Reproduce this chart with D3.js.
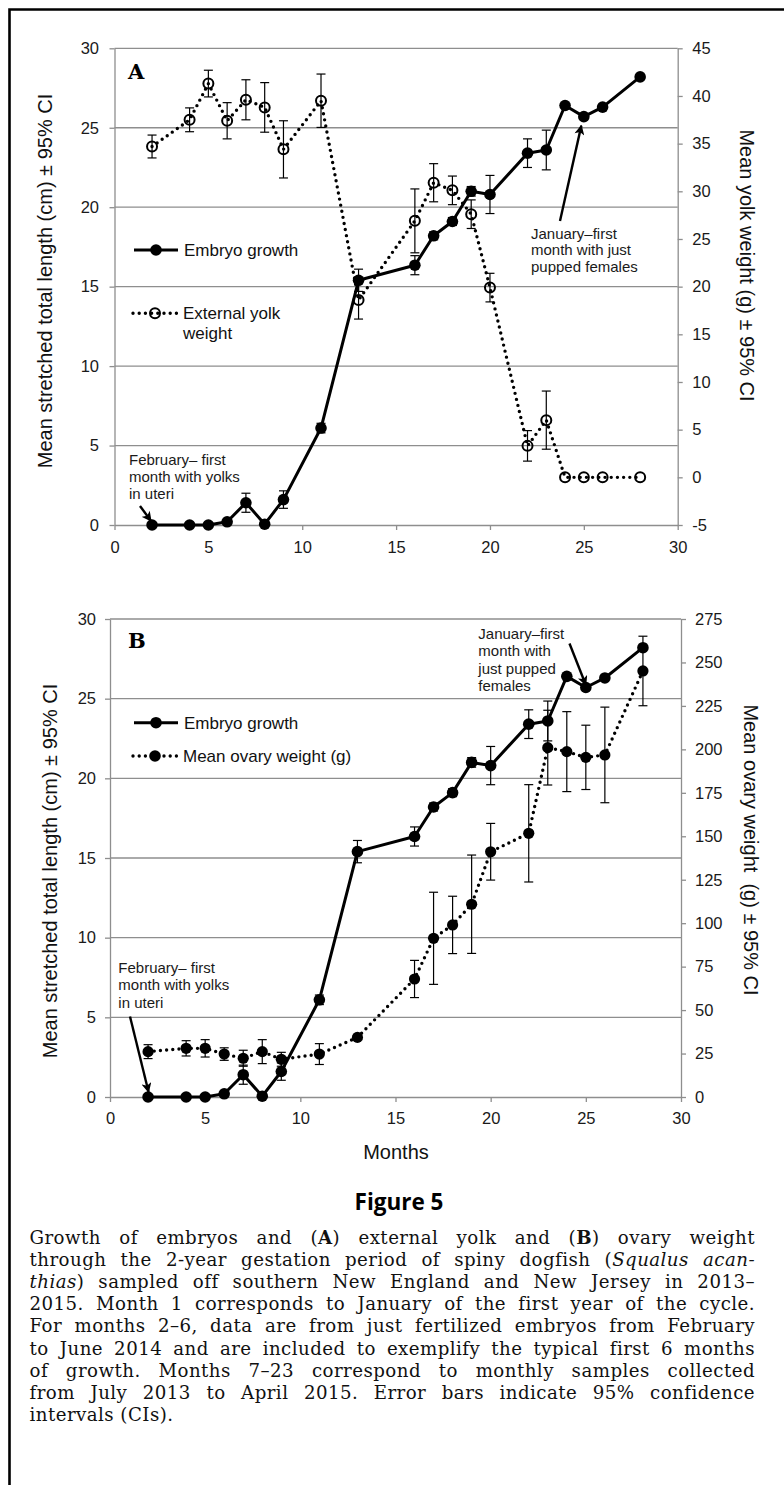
<!DOCTYPE html>
<html>
<head>
<meta charset="utf-8">
<script src="https://cdn.jsdelivr.net/npm/d3@7"></script>
<style>
  html, body { margin: 0; padding: 0; background: #fff; }
  svg { display: block; }
</style>
</head>
<body>
<svg id="fig" width="784" height="1485"></svg>
<script>
// ---- data -------------------------------------------------------------
const months = [2, 4, 5, 6, 7, 8, 9, 11, 13, 16, 17, 18, 19, 20, 22, 23, 24, 25, 26, 28];

// embryo stretched total length (cm) and 95% CI half-widths
const embryoLength = [0, 0, 0, 0.2, 1.4, 0.05, 1.6, 6.1, 15.4, 16.35, 18.2, 19.1, 21.0, 20.8, 23.4, 23.6, 26.4, 25.7, 26.3, 28.2];
const embryoCI     = [0, 0, 0, 0, 0.6, 0, 0.55, 0.3, 0.7, 0.6, 0.25, 0.25, 0.3, 1.2, 0.9, 1.25, 0, 0, 0, 0];

// external yolk weight (g) and 95% CI half-widths
const yolkWeight = [34.7, 37.5, 41.3, 37.4, 39.6, 38.8, 34.4, 39.5, 18.6, 26.9, 30.9, 30.1, 27.6, 19.9, 3.3, 6.0, 0, 0, 0, 0];
const yolkCI     = [1.2, 1.25, 1.4, 1.9, 2.1, 2.6, 3.0, 2.8, 2.0, 3.35, 2.0, 1.5, 1.5, 1.5, 1.6, 3.05, 0, 0, 0, 0];

// mean ovary weight (g) and 95% CI half-widths
const ovaryWeight = [26.1, 28.0, 28.0, 24.7, 22.3, 26.1, 21.7, 24.7, 34.3, 67.9, 91.3, 99.0, 110.9, 141.1, 151.7, 201, 198.7, 195.4, 196.8, 245.1];
const ovaryCI     = [4, 4.4, 5, 3.6, 4.6, 6.9, 4, 6, 0, 10.7, 26.5, 16.5, 28.3, 16.3, 28, 21.5, 23, 18.5, 27.5, 20];

// axis ticks
const monthTicks  = [0, 5, 10, 15, 20, 25, 30];
const lengthTicks = [0, 5, 10, 15, 20, 25, 30];
const yolkTicks   = [-5, 0, 5, 10, 15, 20, 25, 30, 35, 40, 45];
const ovaryTicks  = [0, 25, 50, 75, 100, 125, 150, 175, 200, 225, 250, 275];

// caption
const captionLines = [
  [["Growth of embryos and (", ""], ["A", "b"], [") external yolk and (", ""], ["B", "b"], [") ovary weight", ""]],
  [["through the 2-year gestation period of spiny dogfish (", ""], ["Squalus acan-", "i"]],
  [["thias", "i"], [") sampled off southern New England and New Jersey in 2013\u2013", ""]],
  [["2015. Month 1 corresponds to January of the first year of the cycle.", ""]],
  [["For months 2\u20136, data are from just fertilized embryos from February", ""]],
  [["to June 2014 and are included to exemplify the typical first 6 months", ""]],
  [["of growth. Months 7\u201323 correspond to monthly samples collected", ""]],
  [["from July 2013 to April 2015. Error bars indicate 95% confidence", ""]],
  [["intervals (CIs).", ""]]
];

// ---- styling ----------------------------------------------------------
const GRID = "#8e8e8e";
const INK = "#111";
const SANS = "'Liberation Sans', Arial, sans-serif";
const SERIF = "'DejaVu Serif', serif";

const svg = d3.select("#fig");

const defs = svg.append("defs");
defs.append("marker")
  .attr("id", "arrowHead")
  .attr("viewBox", "0 0 10 10")
  .attr("refX", 9).attr("refY", 5)
  .attr("markerWidth", 11).attr("markerHeight", 10)
  .attr("markerUnits", "userSpaceOnUse")
  .attr("orient", "auto")
  .append("path")
  .attr("d", "M0,0L10,5L0,10L2.5,5Z")
  .attr("fill", "#000");

// page frame
svg.append("path")
  .attr("d", "M9.5,1485V9.5H784")
  .attr("fill", "none").attr("stroke", "#000").attr("stroke-width", 2.6);

const rows = months.map((m, i) => ({ m, i }));

function styleAxis(sel) {
  sel.attr("font-family", SANS).attr("font-size", 16.5);
  sel.selectAll("path, line").attr("stroke", GRID).attr("stroke-width", 1.3);
  sel.selectAll("text").attr("fill", "#1a1a1a");
}

function errorBars(g, x, y, vals, ci) {
  const data = rows.filter(d => ci[d.i] > 0);
  const cap = 4.5;
  const eg = g.append("g").attr("stroke", "#000").attr("stroke-width", 1.2);
  eg.selectAll("line.v").data(data).join("line").attr("class", "v")
    .attr("x1", d => x(d.m)).attr("x2", d => x(d.m))
    .attr("y1", d => y(vals[d.i] - ci[d.i])).attr("y2", d => y(vals[d.i] + ci[d.i]));
  eg.selectAll("line.t").data(data).join("line").attr("class", "t")
    .attr("x1", d => x(d.m) - cap).attr("x2", d => x(d.m) + cap)
    .attr("y1", d => y(vals[d.i] + ci[d.i])).attr("y2", d => y(vals[d.i] + ci[d.i]));
  eg.selectAll("line.b").data(data).join("line").attr("class", "b")
    .attr("x1", d => x(d.m) - cap).attr("x2", d => x(d.m) + cap)
    .attr("y1", d => y(vals[d.i] - ci[d.i])).attr("y2", d => y(vals[d.i] - ci[d.i]));
}

function seriesLine(g, x, y, vals, dotted) {
  const line = d3.line().x(d => x(d.m)).y(d => y(vals[d.i]));
  const p = g.append("path").datum(rows).attr("d", line)
    .attr("fill", "none").attr("stroke", "#000");
  if (dotted) {
    p.attr("stroke-width", 3.4).attr("stroke-dasharray", "0 6.2").attr("stroke-linecap", "round");
  } else {
    p.attr("stroke-width", 3).attr("stroke-linejoin", "round");
  }
}

function markers(g, x, y, vals, hollow, r) {
  g.append("g").selectAll("circle").data(rows).join("circle")
    .attr("cx", d => x(d.m)).attr("cy", d => y(vals[d.i])).attr("r", r)
    .attr("fill", hollow ? "none" : "#000")
    .attr("stroke", "#000").attr("stroke-width", hollow ? 2 : 0);
}

function legendItem(g, lx, ly, dotted, hollow, lines) {
  const l = g.append("line").attr("x1", lx).attr("x2", lx + 44).attr("y1", ly).attr("y2", ly)
    .attr("stroke", "#000");
  if (dotted) l.attr("stroke-width", 3.4).attr("stroke-dasharray", "0 6.2").attr("stroke-linecap", "round");
  else l.attr("stroke-width", 3);
  g.append("circle").attr("cx", lx + 22).attr("cy", ly).attr("r", hollow ? 5 : 5.8)
    .attr("fill", hollow ? "none" : "#000").attr("stroke", "#000").attr("stroke-width", hollow ? 2 : 0);
  lines.forEach((t, k) => {
    g.append("text").attr("x", lx + 50).attr("y", ly + 6 + k * 19.5)
      .attr("font-family", SANS).attr("font-size", 17).attr("fill", INK).text(t);
  });
}

function note(g, tx, ty, lines, lh) {
  lines.forEach((t, k) => {
    g.append("text").attr("x", tx).attr("y", ty + k * lh)
      .attr("font-family", SANS).attr("font-size", 15).attr("fill", "#1a1a1a")
      .style("white-space", "pre").text(t);
  });
}

function arrow(g, x1, y1, x2, y2) {
  g.append("line").attr("x1", x1).attr("y1", y1).attr("x2", x2).attr("y2", y2)
    .attr("stroke", "#000").attr("stroke-width", 2.4)
    .attr("marker-end", "url(#arrowHead)");
}

function drawPanel(p) {
  const g = svg.append("g");
  const x = d3.scaleLinear().domain([0, 30]).range([p.left, p.right]);
  const yL = d3.scaleLinear().domain([0, 30]).range([p.bottom, p.top]);
  const yR = d3.scaleLinear().domain(p.rightDomain).range([p.bottom, p.top]);

  // horizontal gridlines
  g.append("g").selectAll("line").data(lengthTicks.filter(d => d > 0)).join("line")
    .attr("x1", p.left).attr("x2", p.right)
    .attr("y1", d => yL(d)).attr("y2", d => yL(d))
    .attr("stroke", GRID).attr("stroke-width", 1.3);

  g.append("g").attr("transform", `translate(${p.left},0)`)
    .call(d3.axisLeft(yL).tickValues(lengthTicks).tickSize(5).tickSizeOuter(0).tickPadding(p.padL))
    .call(styleAxis);
  g.append("g").attr("transform", `translate(${p.right},0)`)
    .call(d3.axisRight(yR).tickValues(p.rightTicks).tickFormat(d => String(d))
      .tickSize(5).tickSizeOuter(0).tickPadding(p.padR))
    .call(styleAxis);
  g.append("g").attr("transform", `translate(0,${p.bottom})`)
    .call(d3.axisBottom(x).tickValues(monthTicks).tickSize(5).tickSizeOuter(0).tickPadding(p.padB))
    .call(styleAxis);

  // axis titles
  g.append("text")
    .attr("transform", `translate(${p.leftTitle[0]},${p.leftTitle[1]}) rotate(-90)`)
    .attr("text-anchor", "middle").attr("font-family", SANS).attr("font-size", 20).attr("fill", INK)
    .text("Mean stretched total length (cm) \u00b1 95% CI");
  g.append("text")
    .attr("transform", `translate(${p.rightTitle[0]},${p.rightTitle[1]}) rotate(90)`)
    .attr("text-anchor", "middle").attr("font-family", SANS).attr("font-size", 20).attr("fill", INK)
    .style("white-space", "pre")
    .text(p.rightLabel);

  // panel letter
  g.append("text").attr("x", p.letterPos[0]).attr("y", p.letterPos[1])
    .attr("font-family", SERIF).attr("font-weight", "bold").attr("font-size", 21).attr("fill", "#000")
    .text(p.letter);

  // embryo growth (left axis)
  seriesLine(g, x, yL, embryoLength, false);
  errorBars(g, x, yL, embryoLength, embryoCI);
  markers(g, x, yL, embryoLength, false, 5.8);

  // second series (right axis)
  seriesLine(g, x, yR, p.values, true);
  errorBars(g, x, yR, p.values, p.ci);
  markers(g, x, yR, p.values, p.hollow, p.hollow ? 5 : 5.6);

  // legend
  legendItem(g, 134, p.legendY[0], false, false, ["Embryo growth"]);
  legendItem(g, 133, p.legendY[1], true, p.hollow, p.legendText);

  // annotations
  const feb = months.indexOf(2), jan = months.indexOf(25);
  note(g, p.febText[0], p.febText[1], ["February\u2013 first", "month with yolks", "in uteri"], 17.3);
  arrow(g, p.febTail[0], p.febTail[1],
    x(months[feb]) + p.febTip[0], yL(embryoLength[feb]) + p.febTip[1]);
  note(g, p.janText[0], p.janText[1], p.janLines, p.janLH);
  arrow(g, p.janTail[0], p.janTail[1],
    x(months[jan]) + p.janTip[0], yL(embryoLength[jan]) + p.janTip[1]);
}

drawPanel({
  left: 114.5, right: 677.7, top: 48.3, bottom: 525,
  rightDomain: [-5, 45], rightTicks: yolkTicks,
  padL: 10.5, padR: 9.5, padB: 11,
  leftTitle: [52, 281], rightTitle: [740, 265.5],
  rightLabel: "Mean yolk weight (g) \u00b1 95% CI",
  letter: "A", letterPos: [128, 78.5],
  values: yolkWeight, ci: yolkCI, hollow: true,
  legendY: [250, 313.3], legendText: ["External yolk", "weight"],
  febText: [129, 464.5], febTail: [140, 506], febTip: [-1, -4],
  janText: [531, 238.5], janLines: ["January\u2013first", "month with just", "pupped females"], janLH: 16.7,
  janTail: [560, 221], janTip: [-2.5, 9]
});

drawPanel({
  left: 110, right: 681, top: 619, bottom: 1097,
  rightDomain: [0, 275], rightTicks: ovaryTicks,
  padL: 9, padR: 9, padB: 10,
  leftTitle: [57, 871], rightTitle: [744, 850],
  rightLabel: "Mean ovary weight  (g) \u00b1 95% CI",
  letter: "B", letterPos: [128, 648],
  values: ovaryWeight, ci: ovaryCI, hollow: false,
  legendY: [722.7, 756], legendText: ["Mean ovary weight (g)"],
  febText: [118.3, 973], febTail: [130, 1016.5], febTip: [0.5, -5],
  janText: [478.3, 638.5], janLines: ["January\u2013first", "month with", "just pupped", "females"], janLH: 17.6,
  janTail: [569.5, 643.5], janTip: [0, -2.5]
});

// x-axis title (shared, under panel B)
svg.append("text").attr("x", 396).attr("y", 1159)
  .attr("text-anchor", "middle").attr("font-family", SANS).attr("font-size", 20).attr("fill", INK)
  .text("Months");

// figure heading
svg.append("text").attr("x", 399).attr("y", 1209.5)
  .attr("text-anchor", "middle").attr("font-family", "'Open Sans', 'Noto Sans', sans-serif")
  .attr("font-weight", 700).attr("font-size", 22.5).attr("fill", "#000")
  .text("Figure 5");

// caption, justified between the two margins
const capLeft = 29.5, capRight = 755, capTop = 1244, capLH = 22.1;
const capWidth = capRight - capLeft;
captionLines.forEach((segs, k) => {
  const t = svg.append("text")
    .attr("x", capLeft).attr("y", capTop + k * capLH)
    .attr("font-family", SERIF).attr("font-size", 18.2).attr("fill", "#111")
    .style("letter-spacing", "0.45px")
    .style("white-space", "pre");
  segs.forEach(([s, st]) => {
    const ts = t.append("tspan").text(s);
    if (st === "b") ts.attr("font-weight", "bold");
    if (st === "i") ts.attr("font-style", "italic");
  });
  if (k === captionLines.length - 1) return;
  const natural = t.node().getComputedTextLength();
  const text = segs.map(s => s[0]).join("");
  const gaps = (text.match(/ /g) || []).length;
  if (natural < capWidth && gaps > 0) {
    t.style("word-spacing", ((capWidth - natural) / gaps) + "px");
  } else if (natural > capWidth) {
    t.attr("textLength", capWidth).attr("lengthAdjust", "spacingAndGlyphs");
  }
});
</script>
</body>
</html>
